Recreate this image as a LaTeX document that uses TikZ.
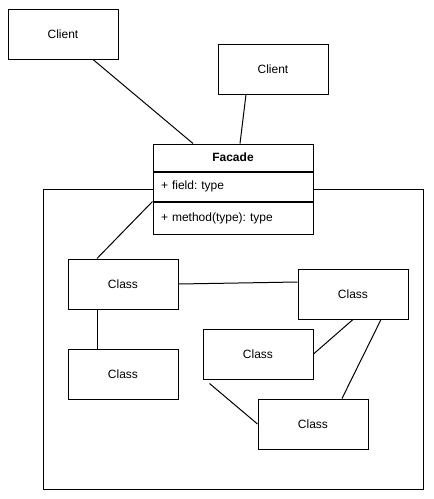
\documentclass[tikz,border=0pt]{standalone}
\usepackage{fontspec}
\setmainfont{Liberation Sans}
\usetikzlibrary{positioning}
\frenchspacing

\tikzset{
  box/.style={draw, line width=1pt, fill=white, inner sep=0pt,
              minimum width=110pt, minimum height=50pt,
              font=\fontsize{12}{14}\selectfont},
  part/.style={draw, line width=1pt, fill=white, inner ysep=0pt, inner xsep=8pt,
               text width=144pt, align=left, font=\fontsize{12}{14}\selectfont},
  link/.style={line width=1pt}
}

\begin{document}
\begin{tikzpicture}[x=1pt,y=-1pt]
            \useasboundingbox (0,0) rectangle (434,499);
            % subsystem frame
            \node[draw, line width=1pt, minimum width=380pt, minimum height=300pt, inner sep=0pt] (sub) at (233,339) {};

            \node[box] (client1) at (63,34) {Client};
            \node[box] (client2) at (273,69) {Client};

            % facade
            \node[part, minimum height=27pt, align=center, font=\fontsize{12}{14}\selectfont\bfseries] (facade) at (233,157.5) {Facade};
            \node[part, minimum height=29pt, below=0pt of facade] (field) {+ field: type};
            \node[part, minimum height=32pt, below=0pt of field] (method) {+ method(type): type};

            \node[box] (classA) at (123,284) {Class};
            \node[box] (classB) at (123,374) {Class};
            \node[box] (classC) at (353,294) {Class};
            \node[box] (classD) at (258,354) {Class};
            \node[box] (classE) at (313,424) {Class};

            \draw[link] ([xshift=30pt]client1.south) -- ([xshift=-40pt]facade.north);
            \draw[link] ([xshift=-27pt]client2.south) -- ([xshift=7pt]facade.north);
            \draw[link] (method.north west) -- ([xshift=-26pt]classA.north);
            \draw[link] ([xshift=-26pt]classA.south) -- ([xshift=-26pt]classB.north);
            \draw[link] (classA.east) -- ([yshift=2pt]classC.west |- classA.east);
            \draw[link] (classC.south) -- (classD.east);
            \draw[link] ([xshift=28pt]classC.south) -- ([xshift=29pt]classE.north);
            \draw[link] ([shift={(7pt,-4pt)}]classD.south west) -- (classE.west);
        \end{tikzpicture}
\end{document}
